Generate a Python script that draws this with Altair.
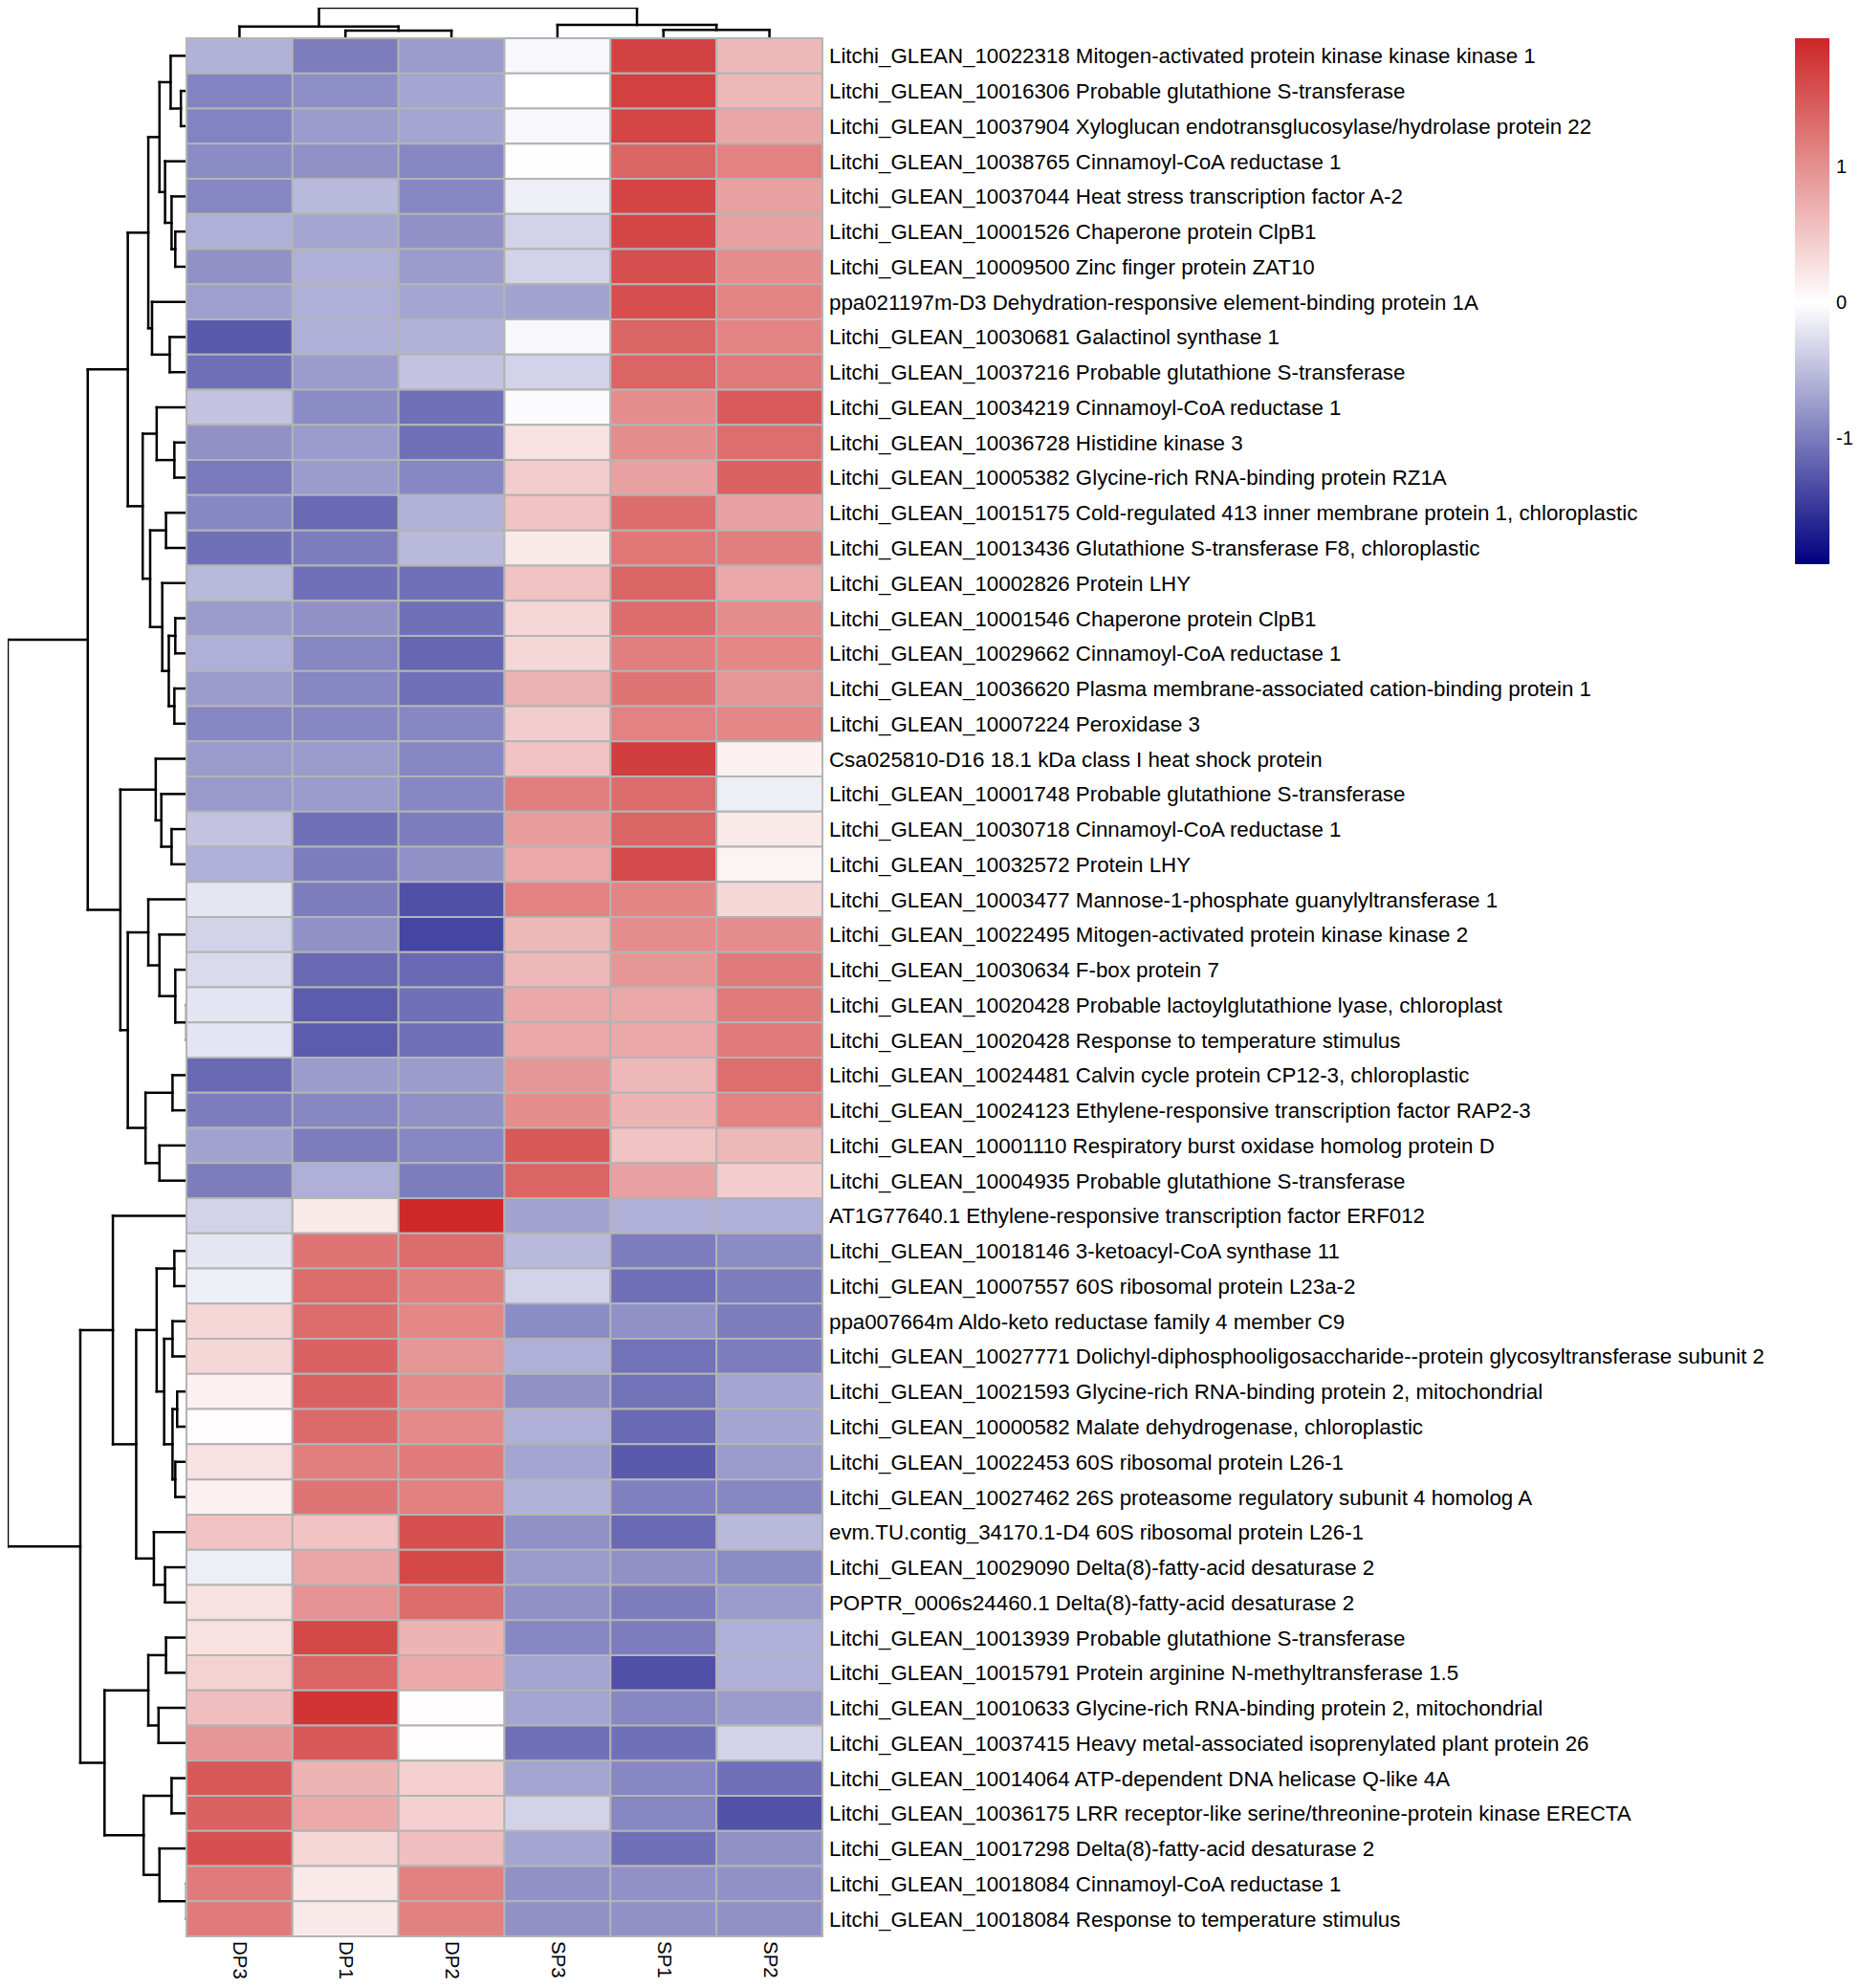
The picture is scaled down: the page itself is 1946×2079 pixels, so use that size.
import altair as alt
import pandas as pd

samples = ["DP3", "DP1", "DP2", "SP3", "SP1", "SP2"]

genes = [
    "Litchi_GLEAN_10022318 Mitogen-activated protein kinase kinase kinase 1",
    "Litchi_GLEAN_10016306 Probable glutathione S-transferase",
    "Litchi_GLEAN_10037904 Xyloglucan endotransglucosylase/hydrolase protein 22",
    "Litchi_GLEAN_10038765 Cinnamoyl-CoA reductase 1",
    "Litchi_GLEAN_10037044 Heat stress transcription factor A-2",
    "Litchi_GLEAN_10001526 Chaperone protein ClpB1",
    "Litchi_GLEAN_10009500 Zinc finger protein ZAT10",
    "ppa021197m-D3 Dehydration-responsive element-binding protein 1A",
    "Litchi_GLEAN_10030681 Galactinol synthase 1",
    "Litchi_GLEAN_10037216 Probable glutathione S-transferase",
    "Litchi_GLEAN_10034219 Cinnamoyl-CoA reductase 1",
    "Litchi_GLEAN_10036728 Histidine kinase 3",
    "Litchi_GLEAN_10005382 Glycine-rich RNA-binding protein RZ1A",
    "Litchi_GLEAN_10015175 Cold-regulated 413 inner membrane protein 1, chloroplastic",
    "Litchi_GLEAN_10013436 Glutathione S-transferase F8, chloroplastic",
    "Litchi_GLEAN_10002826 Protein LHY",
    "Litchi_GLEAN_10001546 Chaperone protein ClpB1",
    "Litchi_GLEAN_10029662 Cinnamoyl-CoA reductase 1",
    "Litchi_GLEAN_10036620 Plasma membrane-associated cation-binding protein 1",
    "Litchi_GLEAN_10007224 Peroxidase 3",
    "Csa025810-D16 18.1 kDa class I heat shock protein",
    "Litchi_GLEAN_10001748 Probable glutathione S-transferase",
    "Litchi_GLEAN_10030718 Cinnamoyl-CoA reductase 1",
    "Litchi_GLEAN_10032572 Protein LHY",
    "Litchi_GLEAN_10003477 Mannose-1-phosphate guanylyltransferase 1",
    "Litchi_GLEAN_10022495 Mitogen-activated protein kinase kinase 2",
    "Litchi_GLEAN_10030634 F-box protein 7",
    "Litchi_GLEAN_10020428 Probable lactoylglutathione lyase, chloroplast",
    "Litchi_GLEAN_10020428 Response to temperature stimulus",
    "Litchi_GLEAN_10024481 Calvin cycle protein CP12-3, chloroplastic",
    "Litchi_GLEAN_10024123 Ethylene-responsive transcription factor RAP2-3",
    "Litchi_GLEAN_10001110 Respiratory burst oxidase homolog protein D",
    "Litchi_GLEAN_10004935 Probable glutathione S-transferase",
    "AT1G77640.1 Ethylene-responsive transcription factor ERF012",
    "Litchi_GLEAN_10018146 3-ketoacyl-CoA synthase 11",
    "Litchi_GLEAN_10007557 60S ribosomal protein L23a-2",
    "ppa007664m Aldo-keto reductase family 4 member C9",
    "Litchi_GLEAN_10027771 Dolichyl-diphosphooligosaccharide--protein glycosyltransferase subunit 2",
    "Litchi_GLEAN_10021593 Glycine-rich RNA-binding protein 2, mitochondrial",
    "Litchi_GLEAN_10000582 Malate dehydrogenase, chloroplastic",
    "Litchi_GLEAN_10022453 60S ribosomal protein L26-1",
    "Litchi_GLEAN_10027462 26S proteasome regulatory subunit 4 homolog A",
    "evm.TU.contig_34170.1-D4 60S ribosomal protein L26-1",
    "Litchi_GLEAN_10029090 Delta(8)-fatty-acid desaturase 2",
    "POPTR_0006s24460.1 Delta(8)-fatty-acid desaturase 2",
    "Litchi_GLEAN_10013939 Probable glutathione S-transferase",
    "Litchi_GLEAN_10015791 Protein arginine N-methyltransferase 1.5",
    "Litchi_GLEAN_10010633 Glycine-rich RNA-binding protein 2, mitochondrial",
    "Litchi_GLEAN_10037415 Heavy metal-associated isoprenylated plant protein 26",
    "Litchi_GLEAN_10014064 ATP-dependent DNA helicase Q-like 4A",
    "Litchi_GLEAN_10036175 LRR receptor-like serine/threonine-protein kinase ERECTA",
    "Litchi_GLEAN_10017298 Delta(8)-fatty-acid desaturase 2",
    "Litchi_GLEAN_10018084 Cinnamoyl-CoA reductase 1",
    "Litchi_GLEAN_10018084 Response to temperature stimulus",
]

DP3 = [-0.58, -0.93, -0.93, -0.87, -0.90, -0.60, -0.83, -0.72, -1.24, -1.08, -0.45,
       -0.83, -1.00, -0.90, -1.08, -0.53, -0.75, -0.60, -0.75, -0.90, -0.75, -0.77,
       -0.45, -0.60, -0.19, -0.34, -0.28, -0.20, -0.20, -1.13, -0.98, -0.70, -0.98,
       -0.34, -0.19, -0.13, 0.36, 0.36, 0.13, 0.03, 0.27, 0.13, 0.54, -0.13,
       0.27, 0.27, 0.40, 0.58, 0.94, 1.50, 1.41, 1.57, 1.19, 1.19]
DP1 = [-0.98, -0.84, -0.75, -0.83, -0.53, -0.68, -0.60, -0.60, -0.60, -0.75, -0.87,
       -0.75, -0.75, -1.13, -0.98, -1.08, -0.83, -0.90, -0.90, -0.90, -0.75, -0.75,
       -1.08, -0.98, -0.98, -0.83, -1.13, -1.23, -1.23, -0.75, -0.90, -0.98, -0.60,
       0.20, 1.25, 1.32, 1.32, 1.41, 1.41, 1.34, 1.16, 1.25, 0.54, 0.80,
       0.98, 1.64, 1.39, 1.82, 1.50, 0.67, 0.76, 0.36, 0.20, 0.20]
DP2 = [-0.75, -0.68, -0.68, -0.90, -0.90, -0.83, -0.75, -0.68, -0.58, -0.45, -1.08,
       -1.08, -0.90, -0.58, -0.53, -1.08, -1.08, -1.15, -1.08, -0.90, -0.90, -0.90,
       -0.98, -0.83, -1.32, -1.40, -1.13, -1.08, -1.08, -0.75, -0.83, -0.90, -0.98,
       1.93, 1.32, 1.16, 1.08, 0.94, 1.05, 1.05, 1.19, 1.13, 1.57, 1.64,
       1.32, 0.67, 0.76, 0.03, 0.03, 0.42, 0.42, 0.58, 1.13, 1.13]
SP3 = [-0.05, 0.00, -0.05, 0.02, -0.13, -0.34, -0.34, -0.70, -0.05, -0.34, -0.03,
       0.27, 0.45, 0.54, 0.20, 0.54, 0.36, 0.36, 0.69, 0.45, 0.54, 1.16,
       0.89, 0.76, 1.12, 0.64, 0.64, 0.78, 0.78, 0.94, 1.03, 1.50, 1.39,
       -0.70, -0.53, -0.34, -0.87, -0.60, -0.83, -0.60, -0.68, -0.58, -0.83, -0.75,
       -0.83, -0.90, -0.68, -0.68, -1.08, -0.68, -0.34, -0.68, -0.83, -0.83]
SP1 = [1.70, 1.72, 1.66, 1.39, 1.68, 1.66, 1.59, 1.59, 1.39, 1.39, 1.03,
       1.03, 0.85, 1.32, 1.22, 1.39, 1.32, 1.16, 1.25, 1.12, 1.74, 1.32,
       1.39, 1.63, 1.10, 1.03, 0.94, 0.78, 0.78, 0.64, 0.67, 0.54, 0.85,
       -0.60, -0.98, -1.08, -0.83, -1.06, -1.06, -1.13, -1.24, -0.96, -1.13, -0.83,
       -0.98, -0.98, -1.32, -0.90, -1.08, -0.90, -0.90, -1.08, -0.83, -0.83]
SP2 = [0.64, 0.64, 0.80, 1.12, 0.85, 0.85, 1.03, 1.10, 1.10, 1.20, 1.48,
       1.30, 1.41, 0.85, 1.16, 0.78, 1.03, 1.08, 0.94, 1.08, 0.13, -0.13,
       0.20, 0.11, 0.36, 1.03, 1.19, 1.19, 1.19, 1.30, 1.12, 0.64, 0.45,
       -0.60, -0.87, -0.98, -0.98, -0.98, -0.68, -0.68, -0.75, -0.90, -0.53, -0.87,
       -0.75, -0.60, -0.60, -0.75, -0.34, -1.08, -1.30, -0.83, -0.83, -0.83]

# Row dendrogram merges: (node, left child, right child, height); ints are row leaves
row_merges = [
    ("A", 1, 2, 6), ("B", 0, "A", 17), ("F", 5, 6, 12), ("E", 4, "F", 16),
    ("D", 3, "E", 23), ("C", "B", "D", 29), ("I", 8, 9, 18), ("H", 7, "I", 37),
    ("G", "C", "H", 41), ("O", 11, 12, 13), ("N", 10, "O", 32), ("Q", 13, 14, 22),
    ("T", 16, 17, 12), ("U", 18, 19, 13), ("S", "T", "U", 19), ("R", 15, "S", 26),
    ("P", "Q", "R", 39), ("K", "N", "P", 47), ("J", "G", "K", 63),
    ("Z", 22, 23, 16), ("Y", 21, "Z", 27), ("W", 20, "Y", 33),
    ("AD", 27, 28, 0), ("AC", 26, "AD", 12), ("AB", 25, "AC", 29), ("AA", 24, "AB", 41),
    ("AF", 29, 30, 15), ("AG", 31, 32, 29), ("AE", "AF", "AG", 44),
    ("X", "AA", "AE", 63), ("V", "W", "X", 71), ("L", "J", "V", 106),
    ("GG", 34, 35, 13), ("II", 36, 37, 15), ("KK", 38, 39, 10), ("LL", 40, 41, 12),
    ("JJ", "KK", "LL", 15), ("HH", "II", "JJ", 24), ("EE", "GG", "HH", 32),
    ("MM", 43, 44, 23), ("FF", 42, "MM", 35), ("DD", "EE", "FF", 54), ("CC", 33, "DD", 79),
    ("QQ", 45, 46, 22), ("RR", 47, 48, 30), ("OO", "QQ", "RR", 41),
    ("SS", 49, 50, 16), ("UU", 52, 53, 0), ("TT", 51, "UU", 29), ("PP", "SS", "TT", 46),
    ("NN", "OO", "PP", 88), ("BB", "CC", "NN", 114), ("ROOT", "L", "BB", 192),
]

# Column dendrogram merges (column indices in samples order)
col_merges = [
    ("c1", 1, 2, 8), ("c2", 0, "c1", 13), ("c3", 4, 5, 9), ("c4", 3, "c3", 15),
    ("croot", "c2", "c4", 36),
]


def dendro_segments(merges, n_leaves):
    pos = {i: i + 0.5 for i in range(n_leaves)}
    hgt = {i: 0 for i in range(n_leaves)}
    segs = []
    for name, a, b, h in merges:
        pa, pb = pos[a], pos[b]
        segs.append({"h1": h, "h2": h, "p1": pa, "p2": pb})
        segs.append({"h1": hgt[a], "h2": h, "p1": pa, "p2": pa})
        segs.append({"h1": hgt[b], "h2": h, "p1": pb, "p2": pb})
        pos[name] = (pa + pb) / 2
        hgt[name] = h
    return pd.DataFrame(segs)


n_rows = len(genes)
n_cols = len(samples)
cols_vals = {"DP3": DP3, "DP1": DP1, "DP2": DP2, "SP3": SP3, "SP1": SP1, "SP2": SP2}

cells = []
for c, s in enumerate(samples):
    for r in range(n_rows):
        cells.append({"c0": c, "c1": c + 1, "r0": r, "r1": r + 1,
                      "sample": s, "gene": genes[r], "value": cols_vals[s][r]})
cells_df = pd.DataFrame(cells)

row_lab_df = pd.DataFrame({"xr": [n_cols] * n_rows,
                           "yr": [r + 0.5 for r in range(n_rows)],
                           "label": genes})
col_lab_df = pd.DataFrame({"xc": [c + 0.5 for c in range(n_cols)],
                           "yc": [n_rows] * n_cols,
                           "label": samples})

row_seg = dendro_segments(row_merges, n_rows)
col_seg = dendro_segments(col_merges, n_cols)

FONT = "Liberation Sans"
XH = alt.Scale(domain=[0, n_cols], range=[187, 852], nice=False, zero=False)
YH = alt.Scale(domain=[0, n_rows], range=[32, 2017], nice=False, zero=False)
XD = alt.Scale(domain=[0, 192], range=[187, 0], nice=False, zero=False)
YD = alt.Scale(domain=[0, 36], range=[31, 0], nice=False, zero=False)

left_dendro = alt.Chart(row_seg).mark_rule(color="black", strokeWidth=2.5, strokeCap="square").encode(
    x=alt.X("h1:Q", scale=XD, axis=None), x2="h2:Q",
    y=alt.Y("p1:Q", scale=YH, axis=None), y2="p2:Q",
)

top_dendro = alt.Chart(col_seg).mark_rule(color="black", strokeWidth=2.5, strokeCap="square").encode(
    x=alt.X("p1:Q", scale=XH, axis=None), x2="p2:Q",
    y=alt.Y("h1:Q", scale=YD, axis=None), y2="h2:Q",
)

heat = alt.Chart(cells_df).mark_rect(stroke="#B4B4B4", strokeWidth=2).encode(
    x=alt.X("c0:Q", scale=XH, axis=None), x2="c1:Q",
    y=alt.Y("r0:Q", scale=YH, axis=None), y2="r1:Q",
    color=alt.Color(
        "value:Q",
        scale=alt.Scale(domain=[-1.92, 0, 1.95], range=["#000080", "#FFFFFF", "#CD2626"],
                        interpolate="rgb"),
        legend=alt.Legend(orient="none", legendX=1869, legendY=32, direction="vertical",
                          gradientLength=550, gradientThickness=36, title=None,
                          values=[1, 0, -1], labelFontSize=20, labelFont=FONT,
                          labelColor="black", labelOffset=7, padding=0,
                          gradientStrokeWidth=0, labelOverlap=False,
                          labelExpr="'' + datum.value"),
    ),
)

row_labels = alt.Chart(row_lab_df).mark_text(
    align="left", baseline="middle", dx=7, dy=1, font=FONT, fontSize=22.3, color="black"
).encode(
    x=alt.X("xr:Q", scale=XH, axis=None),
    y=alt.Y("yr:Q", scale=YH, axis=None),
    text="label:N",
)

col_labels = alt.Chart(col_lab_df).mark_text(
    align="left", baseline="middle", angle=90, dx=5, font=FONT, fontSize=20.5, color="black"
).encode(
    x=alt.X("xc:Q", scale=XH, axis=None),
    y=alt.Y("yc:Q", scale=YH, axis=None),
    text="label:N",
)

chart = alt.layer(left_dendro, top_dendro, heat, row_labels, col_labels).resolve_scale(
    x="independent", y="independent"
).properties(
    width=1930, height=2063, autosize="none", padding=0
).configure_view(stroke=None)

chart.save("out.html", embed_options={"renderer": "svg", "actions": False})
